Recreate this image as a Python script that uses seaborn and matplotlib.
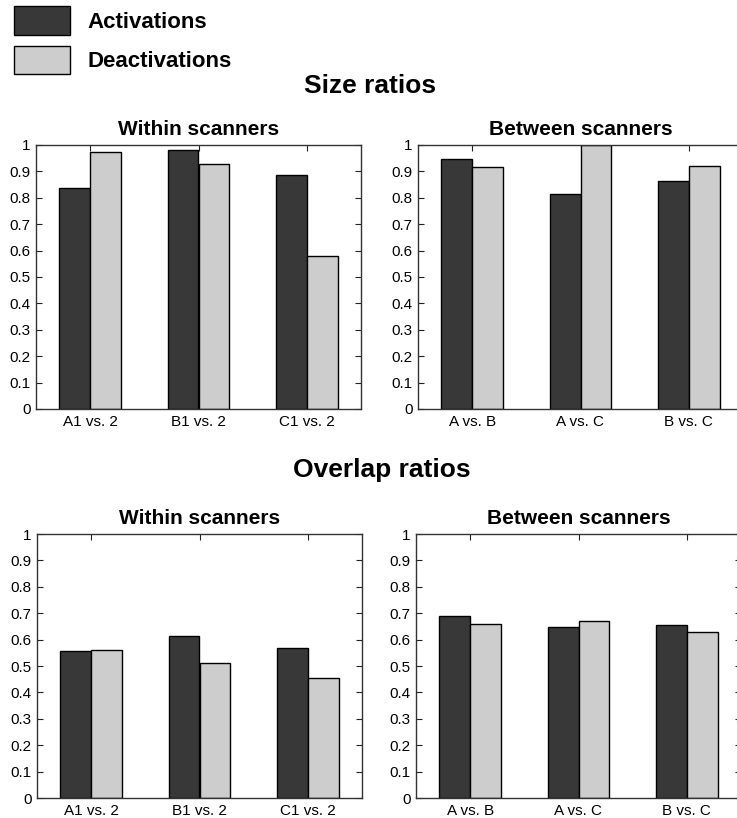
import numpy as np
import pandas as pd
import seaborn as sns
import matplotlib
matplotlib.use("Agg")
import matplotlib.pyplot as plt
from matplotlib.patches import Patch

# values
within_labels = ["A1 vs. 2", "B1 vs. 2", "C1 vs. 2"]
between_labels = ["A vs. B", "A vs. C", "B vs. C"]
series = ["Activations", "Deactivations"]

size_within_act = [0.836, 0.981, 0.886]
size_within_deact = [0.973, 0.928, 0.580]
size_between_act = [0.948, 0.816, 0.865]
size_between_deact = [0.918, 1.0, 0.921]

overlap_within_act = [0.556, 0.613, 0.570]
overlap_within_deact = [0.559, 0.513, 0.453]
overlap_between_act = [0.689, 0.646, 0.656]
overlap_between_deact = [0.659, 0.670, 0.627]

colors = {"Activations": "#383838", "Deactivations": "#cdcdcd"}

sns.set_style("ticks")
plt.rcParams['font.family'] = ['Liberation Sans', 'DejaVu Sans']
plt.rcParams['xtick.direction'] = 'in'
plt.rcParams['ytick.direction'] = 'in'
for k in ['text.color', 'axes.labelcolor', 'xtick.color', 'ytick.color']:
  plt.rcParams[k] = 'black'


def longform(cats, act, deact):
  rows = []
  for c, a, d in zip(cats, act, deact):
    rows.append({'pair': c, 'kind': 'Activations', 'ratio': a})
    rows.append({'pair': c, 'kind': 'Deactivations', 'ratio': d})
  return pd.DataFrame(rows)


def panel(ax, df, title):
  sns.barplot(
    data=df, x='pair', y='ratio', hue='kind', hue_order=series,
    palette=colors, width=0.571, gap=0, edgecolor='black', linewidth=1.0,
    legend=False, ax=ax
  )
  ax.set_xlim(-0.5, 2.5)
  ax.set_ylim(0, 1)
  ticks = np.round(np.arange(0, 1.01, 0.1), 1)
  ax.set_yticks(ticks)
  ax.set_yticklabels(['0' if t == 0 else ('1' if t == 1 else f'{t:g}') for t in ticks])
  ax.set_xlabel('')
  ax.set_ylabel('')
  ax.tick_params(axis='both', labelsize=11, length=4, width=0.8, color='#222222',
                 labelcolor='black', top=True, right=True, pad=4)
  for s in ax.spines.values():
    s.set_visible(True)
    s.set_linewidth(1.0)
    s.set_color('#333333')
  ax.set_title(title, fontsize=15, fontweight='bold', pad=7, color='black')


W, H = 737, 818
fig = plt.figure(figsize=(W / 100, H / 100), dpi=100)

def box(l, t, w=325, h=264):
  return [l / W, (H - t - h) / H, w / W, h / H]

ax1 = fig.add_axes(box(36, 145))
ax2 = fig.add_axes(box(418, 145))
ax3 = fig.add_axes(box(37, 534))
ax4 = fig.add_axes(box(416, 534))

panel(ax1, longform(within_labels, size_within_act, size_within_deact), 'Within scanners')
panel(ax2, longform(between_labels, size_between_act, size_between_deact), 'Between scanners')
panel(ax3, longform(within_labels, overlap_within_act, overlap_within_deact), 'Within scanners')
panel(ax4, longform(between_labels, overlap_between_act, overlap_between_deact), 'Between scanners')

fig.text(370 / W, 1 - 86 / H, 'Size ratios', fontsize=19, fontweight='bold',
         ha='center', va='center')
fig.text(382 / W, 1 - 470 / H, 'Overlap ratios', fontsize=19, fontweight='bold',
         ha='center', va='center')

handles = [Patch(facecolor=colors[s], edgecolor='black', linewidth=1.0) for s in series]
leg = fig.legend(
  handles, series, loc='upper left', bbox_to_anchor=(14 / W, 1 - 6 / H),
  frameon=False, borderpad=0, borderaxespad=0, handlelength=2.5, handleheight=1.6,
  handletextpad=0.8, labelspacing=0.5, prop={'size': 16, 'weight': 'bold'}
)

fig.savefig('out.png', dpi=100)
